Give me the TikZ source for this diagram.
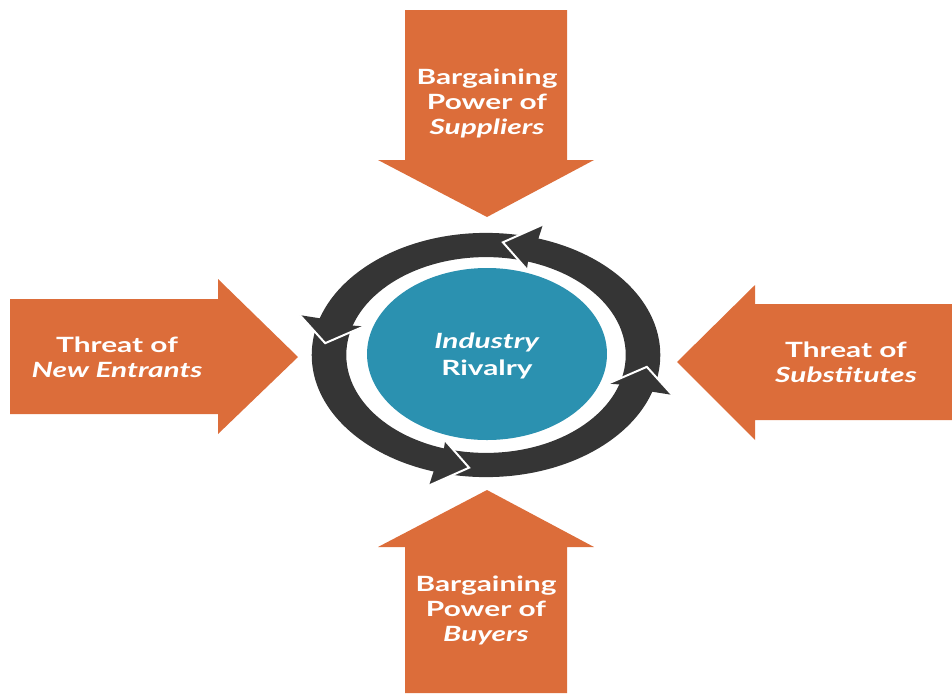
\documentclass[tikz,border=0pt]{standalone}
\usepackage{fontspec}
\setmainfont{Lato}
\usetikzlibrary{shapes.geometric}

\definecolor{forceorange}{HTML}{DC6D3A}
\definecolor{ringgray}{HTML}{353535}
\definecolor{rivalteal}{HTML}{2B91B0}

\tikzset{
  force/.style={fill=forceorange},
  lbl/.style={text=white, align=center, xscale=1.42,
    font=\fontsize{10.5}{12.5}\selectfont\bfseries},
}

\begin{document}
\begin{tikzpicture}[x=0.5pt, y=0.5pt]
  \useasboundingbox (0,0) rectangle (952,693);

  % the four forces
  \fill[force] (405,683) -- (567,683) -- (567,533) -- (594,533) -- (487,476) -- (378,533) -- (405,533) -- cycle;
  \fill[force] (405,0) -- (567,0) -- (567,146) -- (594,146) -- (487,203) -- (378,146) -- (405,146) -- cycle;
  \fill[force] (10,394) -- (218,394) -- (218,414) -- (298,336) -- (218,259) -- (218,279) -- (10,279) -- cycle;
  \fill[force] (952,389) -- (755,389) -- (755,408) -- (677,331) -- (755,253) -- (755,273) -- (952,273) -- cycle;

  \begin{scope}[every node/.style={lbl}]
    \node (suppliers)   at (487,590) {Bargaining\\Power of\\\textit{Suppliers}};
    \node (buyers)      at (486,83)  {Bargaining\\Power of\\\textit{Buyers}};
    \node (entrants)    at (117,336) {Threat of\\\textit{New Entrants}};
    \node (substitutes) at (846,331) {Threat of\\\textit{Substitutes}};
  \end{scope}

  % rivalry cycle
  \begin{scope}[shift={(486,338)}, x=78.5pt, y=55pt]
    \fill[ringgray, even odd rule] (0,0) ellipse [x radius=1.11, y radius=1.11]
                                   (0,0) ellipse [x radius=0.89, y radius=0.89];
    \foreach \t in {84,174,264,354} {
      \fill[ringgray] (\t-11:1.24) -- (\t:1.03) -- (\t-12.5:0.82) -- (\t-11.5:0.89) -- (\t-11.5:1.11) -- cycle;
      \draw[white, line width=1pt, line join=miter] (\t-11:1.24) -- (\t:1.03) -- (\t-12.5:0.82);
    }
  \end{scope}

  \node[ellipse, fill=rivalteal, minimum width=84.5pt, minimum height=86pt, inner sep=0pt, xscale=1.42] (core) at (487,339) {};
  \node[lbl, font=\fontsize{10.5}{13.5}\selectfont\bfseries] (rivalry) at ([yshift=-1pt]core.center) {\textit{Industry}\\Rivalry};

\end{tikzpicture}
\end{document}
